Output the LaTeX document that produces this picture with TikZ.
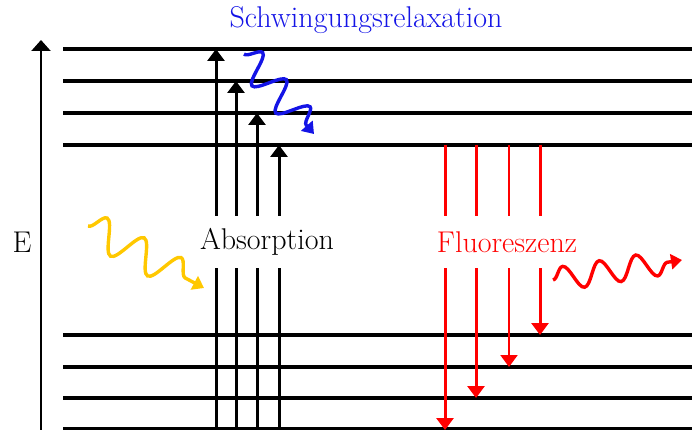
\documentclass[tikz,border=0pt]{standalone}
\usetikzlibrary{positioning, arrows.meta, decorations.pathmorphing}
\definecolor{gold}{RGB}{255,200,0}
\definecolor{relaxblue}{RGB}{20,20,230}
\definecolor{fluored}{RGB}{255,0,0}

\begin{document}
\begin{tikzpicture}[
  x=1pt, y=-1pt,
  lvl/.style={draw=black, line width=3.4pt},
  axis/.style={draw=black, line width=2.2pt, -{Triangle[length=11pt, width=19pt]}},
  upseg/.style={draw=black, line width=3pt},
  up/.style={upseg, -{Triangle[length=12pt, width=17pt]}},
  downseg/.style={draw=fluored, line width=3pt},
  down/.style={downseg, -{Triangle[length=12pt, width=17pt]}},
  wave/.style={line width=3.4pt, decorate,
               decoration={snake, segment length=#1, amplitude=14pt, post length=9pt},
               -{Triangle[length=11pt, width=15pt]}},
  lbl/.style={font=\fontsize{30}{36}\selectfont, inner sep=0pt}]
  \useasboundingbox (0,0) rectangle (692,430);
  % energy levels
  \draw[lvl] (63,49) -- (692,49);
  \draw[lvl] (63,81) -- (692,81);
  \draw[lvl] (63,113) -- (692,113);
  \draw[lvl] (63,145) -- (692,145);
  \draw[lvl] (63,335) -- (692,335);
  \draw[lvl] (63,367) -- (692,367);
  \draw[lvl] (63,398) -- (692,398);
  \draw[lvl] (63,429) -- (692,429);
  % energy axis
  \coordinate (axb) at (41,430);
  \coordinate (axt) at (41,40);
  \draw[axis] (axb) -- (axt);
  % labels
  \node[lbl] (elab) at (22,242) {E};
  \node[lbl, text=relaxblue] (relax) at (366,20) {Schwingungsrelaxation};
  \node[lbl, minimum height=52pt] (absorb) at (267,242) {Absorption};
  \node[lbl, text=fluored, minimum height=52pt] (fluor) at (507,242) {Fluoreszenz};
  % absorption
  \coordinate (ab1) at (216,430); \coordinate (at1) at (216,49);
  \coordinate (ab2) at (236,430); \coordinate (at2) at (236,81);
  \coordinate (ab3) at (257,430); \coordinate (at3) at (257,113);
  \coordinate (ab4) at (279,430); \coordinate (at4) at (279,145);
  \draw[upseg] (ab1) -- (ab1 |- absorb.south);
  \draw[up] (ab1 |- absorb.north) -- (at1);
  \draw[upseg] (ab2) -- (ab2 |- absorb.south);
  \draw[up] (ab2 |- absorb.north) -- (at2);
  \draw[upseg] (ab3) -- (ab3 |- absorb.south);
  \draw[up] (ab3 |- absorb.north) -- (at3);
  \draw[upseg] (ab4) -- (ab4 |- absorb.south);
  \draw[up] (ab4 |- absorb.north) -- (at4);
  % fluorescence
  \coordinate (ft1) at (445,145); \coordinate (fb1) at (445,430);
  \coordinate (ft2) at (476,145); \coordinate (fb2) at (476,398);
  \coordinate (ft3) at (509,145); \coordinate (fb3) at (509,367);
  \coordinate (ft4) at (540,145); \coordinate (fb4) at (540,335);
  \draw[downseg] (ft1) -- (ft1 |- fluor.north);
  \draw[down] (ft1 |- fluor.south) -- (fb1);
  \draw[downseg] (ft2) -- (ft2 |- fluor.north);
  \draw[down] (ft2 |- fluor.south) -- (fb2);
  \draw[downseg, line width=2.2pt] (ft3) -- (ft3 |- fluor.north);
  \draw[down, line width=2.2pt] (ft3 |- fluor.south) -- (fb3);
  \draw[downseg] (ft4) -- (ft4 |- fluor.north);
  \draw[down] (ft4 |- fluor.south) -- (fb4);
  % photons and relaxation
  \coordinate (ys) at (88,226); \coordinate (ye) at (204,288);
  \coordinate (bs) at (244,54); \coordinate (be) at (314,134);
  \coordinate (rs) at (553,280); \coordinate (re) at (682,260);
  \draw[wave=42pt, draw=gold, decoration={amplitude=16pt}] (ys) -- (ye);
  \draw[wave=36pt, draw=relaxblue, decoration={amplitude=15pt}] (bs) -- (be);
  \draw[wave=37pt, draw=fluored, decoration={amplitude=12pt}] (rs) -- (re);
\end{tikzpicture}
\end{document}
